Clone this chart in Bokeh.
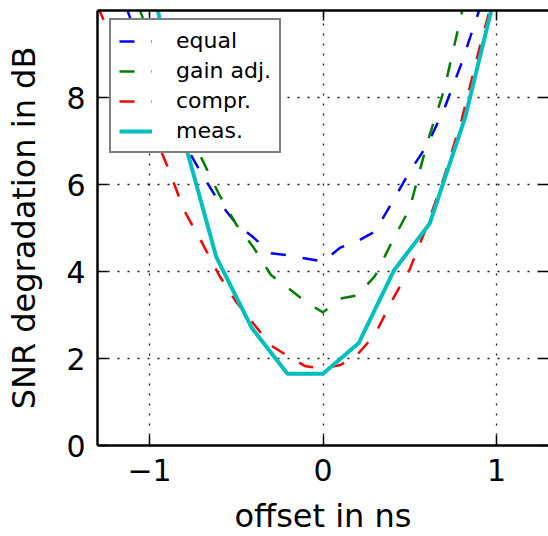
from bokeh.plotting import figure
from bokeh.models import Range1d, FixedTicker, LinearAxis, Legend, LegendItem, CustomJSTickFormatter
from bokeh.embed import file_html
from bokeh.resources import INLINE

# offsets (ns) of the simulated curves
x_sim = [-1.3, -1.2, -1.1, -1.0, -0.9, -0.8, -0.7, -0.6, -0.5, -0.4, -0.3, -0.2, -0.1,
         0.0, 0.1, 0.2, 0.3, 0.4, 0.5, 0.6, 0.7, 0.8, 0.9, 1.0]
equal = [12.9, 10.8, 9.7, 8.8, 7.8, 6.95, 6.25, 5.6, 5.1, 4.78, 4.42, 4.37, 4.3,
         4.23, 4.55, 4.7, 4.92, 5.6, 6.3, 6.9, 7.75, 8.8, 10.0, 11.5]
gain_adj = [12.8, 11.6, 10.5, 9.4, 8.4, 7.5, 6.6, 5.78, 5.08, 4.55, 3.92, 3.62, 3.3,
            3.06, 3.38, 3.45, 3.9, 4.7, 5.45, 6.95, 8.2, 9.95, 11.8, 13.5]
compr = [10.1, 9.2, 8.3, 7.4, 6.45, 5.4, 4.68, 3.92, 3.3, 2.8, 2.3, 2.05, 1.82,
         1.77, 1.85, 2.1, 2.55, 3.35, 4.05, 5.05, 6.2, 7.5, 9.1, 10.6]
# measured
x_meas = [-1.025, -0.82, -0.615, -0.41, -0.205, 0.0, 0.205, 0.41, 0.615, 0.82, 1.025]
meas = [11.5, 7.3, 4.33, 2.7, 1.65, 1.65, 2.35, 4.03, 5.1, 7.55, 10.9]

x_ticks = [-1, 0, 1]
y_ticks = [0, 2, 4, 6, 8]
labels = ["equal", "gain adj.", "compr.", "meas."]

FONT = "DejaVu Sans"

p = figure(width=548, height=540, x_range=Range1d(-1.3, 1.3), y_range=Range1d(0, 10),
           output_backend="svg", toolbar_location=None,
           min_border_left=97, min_border_right=0, min_border_top=10, min_border_bottom=95)
p.background_fill_color = "white"
p.border_fill_color = "white"
p.outline_line_color = None

fmt = CustomJSTickFormatter(code="return tick.toString().replace('-', '\\u2212')")

for ax in (p.xaxis[0], p.yaxis[0]):
    ax.axis_line_color = "black"
    ax.axis_line_width = 2.5
    ax.major_tick_in = 10
    ax.major_tick_out = 0
    ax.major_tick_line_width = 1.5
    ax.major_tick_line_color = "black"
    ax.minor_tick_line_color = None
    ax.major_label_text_font = FONT
    ax.major_label_text_font_size = "30px"
    ax.major_label_text_color = "black"
    ax.axis_label_text_font = FONT
    ax.axis_label_text_font_size = "32px"
    ax.axis_label_text_font_style = "normal"
    ax.axis_label_text_color = "black"
    ax.formatter = fmt

p.xaxis[0].ticker = FixedTicker(ticks=x_ticks)
p.yaxis[0].ticker = FixedTicker(ticks=y_ticks)
p.xaxis[0].axis_label = "offset in ns"
p.yaxis[0].axis_label = "SNR degradation in dB"
p.xaxis[0].major_label_standoff = 13
p.yaxis[0].major_label_standoff = 12
p.xaxis[0].axis_label_standoff = 13
p.yaxis[0].axis_label_standoff = 20

for loc, tk in (("above", x_ticks), ("right", y_ticks)):
    ax = LinearAxis(ticker=FixedTicker(ticks=tk))
    ax.axis_line_color = "black" if loc == "above" else None
    ax.axis_line_width = 2.5
    ax.major_tick_in = 10
    ax.major_tick_out = 0
    ax.major_tick_line_width = 1.5
    ax.minor_tick_line_color = None
    ax.major_label_text_font_size = "0px"
    ax.major_label_standoff = 0
    ax.major_label_overrides = {t: "" for t in tk}
    p.add_layout(ax, loc)

p.xgrid.ticker = FixedTicker(ticks=x_ticks)
p.ygrid.ticker = FixedTicker(ticks=y_ticks)
for g in (p.xgrid[0], p.ygrid[0]):
    g.grid_line_color = "black"
    g.grid_line_width = 1.3
    g.grid_line_dash = "2 8"
    g.grid_line_alpha = 0.9

r1 = p.line(x_sim, equal, line_color="#0000ff", line_width=2.5, line_dash="15 17")
r2 = p.line(x_sim, gain_adj, line_color="#008000", line_width=2.5, line_dash="15 17")
r3 = p.line(x_sim, compr, line_color="#ff0000", line_width=2.5, line_dash="15 17")
r4 = p.line(x_meas, meas, line_color="#00bfbf", line_width=4)

legend = Legend(items=[LegendItem(label=l, renderers=[r]) for l, r in zip(labels, [r1, r2, r3, r4])],
                location=(12, 292))
legend.border_line_color = "black"
legend.border_line_width = 2
legend.background_fill_color = "white"
legend.background_fill_alpha = 1
legend.padding = 8
legend.spacing = 5
legend.margin = 0
legend.glyph_width = 33
legend.glyph_height = 18
legend.label_height = 18
legend.label_standoff = 24
legend.label_text_font = FONT
legend.label_text_font_size = "22px"
legend.label_text_color = "black"
p.add_layout(legend, "center")

open("out.html", "w").write(file_html(p, INLINE))
